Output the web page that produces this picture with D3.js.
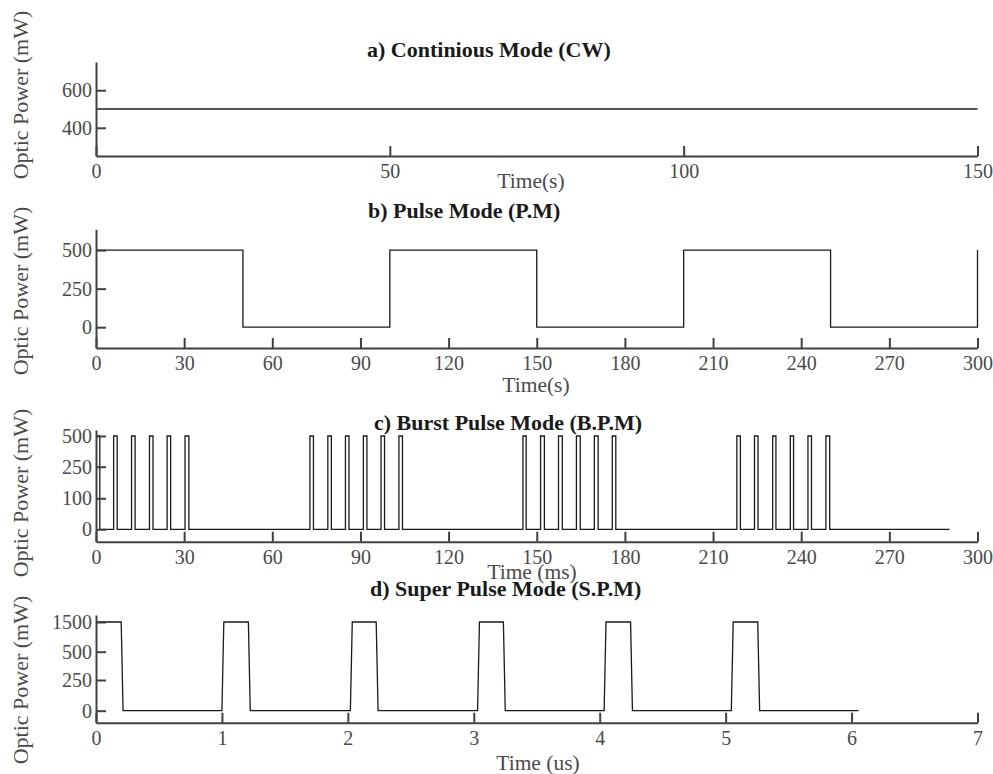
<!DOCTYPE html>
<html>
<head>
<meta charset="utf-8">
<script src="https://cdn.jsdelivr.net/npm/d3@7"></script>
<style>
  html, body { margin: 0; padding: 0; background: #fff; }
  svg { display: block; }
</style>
</head>
<body>
<div id="chart"></div>
<script>
// a) continuous wave
var cwTime = [0, 150];
var cwPower = [500, 500];
var cwXTicks = [0, 50, 100, 150];
var cwYTicks = [400, 600];

// b) pulse mode
var pmTime = [0, 50, 50, 100, 100, 150, 150, 200, 200, 250, 250, 300, 300];
var pmPower = [500, 500, 0, 0, 500, 500, 0, 0, 500, 500, 0, 0, 500];
var pmXTicks = [0, 30, 60, 90, 120, 150, 180, 210, 240, 270, 300];
var pmYTicks = [0, 250, 500];

// c) burst pulse mode: start / end of each 500 mW pulse (ms)
var bpmOn = [0, 6.0, 12.1, 18.2, 24.2, 30.3,
             72.8, 78.9, 84.9, 91.0, 97.0, 103.1,
             145.3, 151.3, 157.4, 163.5, 169.6, 175.7,
             218.1, 224.1, 230.3, 236.3, 242.3, 248.4];
var bpmOff = [1.3, 7.2, 13.3, 19.4, 25.4, 31.6,
              74.0, 80.1, 86.1, 92.2, 98.2, 104.3,
              146.4, 152.6, 158.7, 164.8, 170.9, 176.9,
              219.3, 225.3, 231.4, 237.4, 243.5, 249.7];
var bpmEnd = 290.5;
var bpmXTicks = [0, 30, 60, 90, 120, 150, 180, 210, 240, 270, 300];
var bpmYTicks = [0, 100, 250, 500];

// d) super pulse mode
var spmTime = [0, 0.2, 0.215, 1.0, 1.015, 1.21, 1.225, 2.02, 2.035, 2.225, 2.24,
               3.03, 3.045, 3.235, 3.25, 4.035, 4.05, 4.245, 4.26,
               5.045, 5.06, 5.255, 5.27, 6.055];
var spmPower = [1500, 1500, 0, 0, 1500, 1500, 0, 0, 1500, 1500, 0,
                0, 1500, 1500, 0, 0, 1500, 1500, 0,
                0, 1500, 1500, 0, 0];
var spmXTicks = [0, 1, 2, 3, 4, 5, 6, 7];
var spmYTicks = [0, 250, 500, 1500];

var W = 993, H = 774;
var X0 = 96, X1 = 977.5;
var serif = '"Liberation Serif", "Times New Roman", serif';
var axisColor = '#404040';

function zipPts(t, p) {
  return t.map(function (v, i) { return [v, p[i]]; });
}

var bpmPts = [[0, 500]];
bpmOn.forEach(function (on, i) {
  if (i > 0) { bpmPts.push([on, 0]); bpmPts.push([on, 500]); }
  bpmPts.push([bpmOff[i], 500]);
  bpmPts.push([bpmOff[i], 0]);
});
bpmPts.push([bpmEnd, 0]);

var panels = [
  { title: 'a) Continious Mode (CW)', tx: 367, ty: 57,
    xlabel: 'Time(s)', lx: 531, ly: 188, yc: 95,
    xDomain: [0, 150], xTicks: cwXTicks,
    yDomain: [250, 750], yRange: [156, 62], yTicks: cwYTicks,
    pts: zipPts(cwTime, cwPower) },
  { title: 'b) Pulse Mode (P.M)', tx: 368, ty: 218,
    xlabel: 'Time(s)', lx: 536, ly: 392, yc: 291,
    xDomain: [0, 300], xTicks: pmXTicks,
    yDomain: [-135, 635], yRange: [348, 229.3], yTicks: pmYTicks,
    pts: zipPts(pmTime, pmPower) },
  { title: 'c) Burst Pulse Mode (B.P.M)', tx: 374, ty: 430,
    xlabel: 'Time (ms)', lx: 532, ly: 579, yc: 493,
    xDomain: [0, 300], xTicks: bpmXTicks,
    yDomain: [-40, 0, 100, 250, 500, 549], yRange: [541.7, 529.3, 498.3, 466.7, 436, 430], yTicks: bpmYTicks,
    pts: bpmPts },
  { title: 'd) Super Pulse Mode (S.P.M)', tx: 370, ty: 596,
    xlabel: 'Time (us)', lx: 538, ly: 770, yc: 680,
    xDomain: [0, 7], xTicks: spmXTicks,
    yDomain: [-100, 0, 250, 500, 1500, 1736], yRange: [722.7, 710.7, 680, 651.7, 622, 615], yTicks: spmYTicks,
    pts: zipPts(spmTime, spmPower) }
];

var svg = d3.select('#chart').append('svg')
  .attr('width', W)
  .attr('height', H);

panels.forEach(function (p) {
  var x = d3.scaleLinear().domain(p.xDomain).range([X0, X1]);
  var y = d3.scaleLinear().domain(p.yDomain).range(p.yRange);
  var yBottom = p.yRange[0];

  var g = svg.append('g');

  // signal
  g.append('path')
    .datum(p.pts)
    .attr('fill', 'none')
    .attr('stroke', '#1a1a1a')
    .attr('stroke-width', 1.3)
    .attr('d', d3.line().x(function (d) { return x(d[0]); }).y(function (d) { return y(d[1]); }));

  // x axis, ticks pointing inside
  var gx = g.append('g')
    .attr('transform', 'translate(0,' + yBottom + ')')
    .call(d3.axisBottom(x).tickValues(p.xTicks).tickFormat(d3.format('d'))
      .tickSizeInner(-10).tickSizeOuter(0).tickPadding(8));

  // y axis, ticks pointing inside
  var gy = g.append('g')
    .attr('transform', 'translate(' + X0 + ',0)')
    .call(d3.axisLeft(y).tickValues(p.yTicks).tickFormat(d3.format('d'))
      .tickSizeInner(-10).tickSizeOuter(0).tickPadding(4));

  [gx, gy].forEach(function (a) {
    a.attr('font-family', serif).attr('font-size', 20);
    a.selectAll('path, line').attr('stroke', axisColor).attr('stroke-width', 2);
    a.selectAll('text').attr('fill', '#4a4a4a');
  });

  g.append('text')
    .attr('x', p.tx)
    .attr('y', p.ty)
    .attr('font-family', serif)
    .attr('font-size', 22)
    .attr('font-weight', 'bold')
    .attr('fill', '#1a1a1a')
    .text(p.title);

  g.append('text')
    .attr('x', p.lx)
    .attr('y', p.ly)
    .attr('text-anchor', 'middle')
    .attr('font-family', serif)
    .attr('font-size', 21.5)
    .attr('fill', '#4a4a4a')
    .text(p.xlabel);

  g.append('text')
    .attr('transform', 'translate(28,' + p.yc + ') rotate(-90)')
    .attr('text-anchor', 'middle')
    .attr('font-family', serif)
    .attr('font-size', 22)
    .attr('fill', '#4a4a4a')
    .text('Optic Power (mW)');
});
</script>
</body>
</html>
